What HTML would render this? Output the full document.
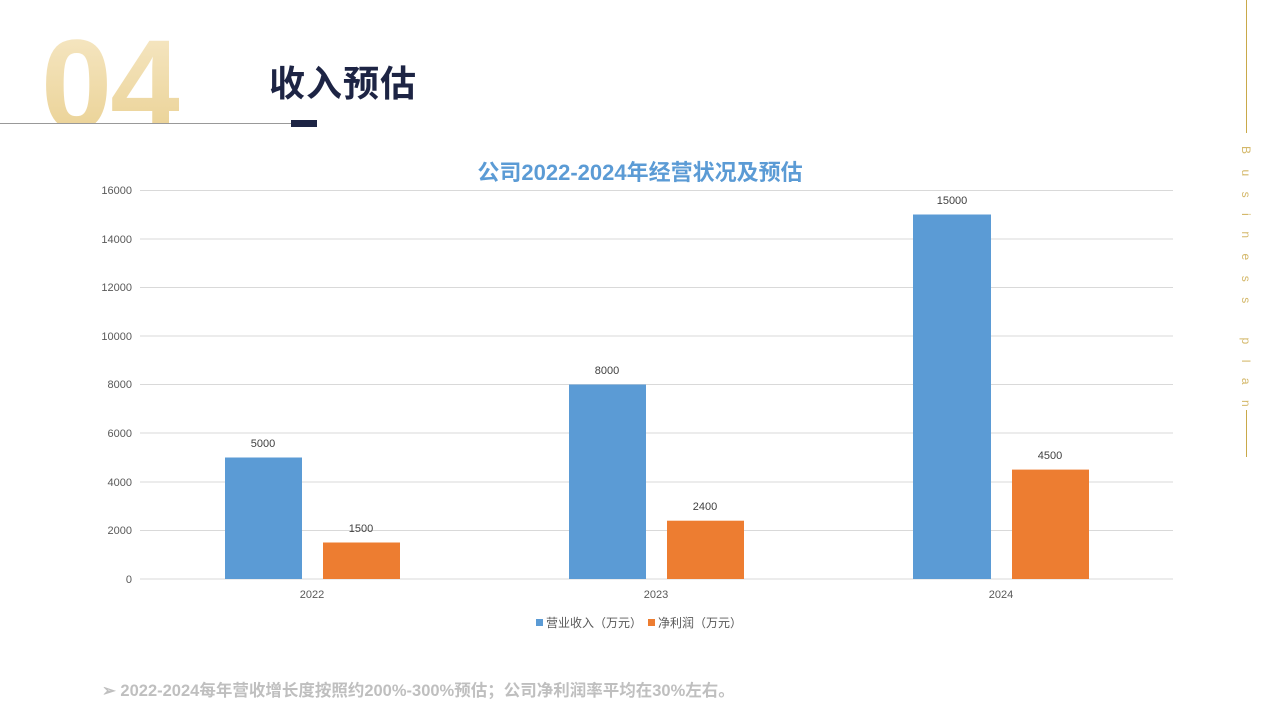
<!DOCTYPE html>
<html><head><meta charset="utf-8"><style>
html,body{margin:0;padding:0;background:#fff;}
body{width:1280px;height:720px;overflow:hidden;position:relative;font-family:"Liberation Sans","Noto Sans CJK SC",sans-serif;}
.numwrap{position:absolute;left:0;top:0;width:300px;height:123px;overflow:hidden;}
.num{position:absolute;left:41px;top:22px;font-size:128px;font-weight:bold;line-height:128px;letter-spacing:-2px;
background:linear-gradient(#f6e8c6,#e9cf8f);-webkit-background-clip:text;background-clip:text;color:transparent;font-family:"Liberation Sans",sans-serif;}
.title{position:absolute;left:269px;top:62px;font-size:36px;font-weight:bold;color:#1d2444;line-height:44px;letter-spacing:1px;}
</style></head><body>
<div class="numwrap"><div class="num">04</div></div>
<div style="position:absolute;left:0;top:123px;width:292px;height:1px;background:#999;"></div>
<div style="position:absolute;left:291px;top:120px;width:26px;height:7px;background:#1d2444;"></div>
<div class="title">收入预估</div>
<div style="position:absolute;left:1246px;top:0;width:1px;height:133px;background:#c9a94a;"></div>
<div style="position:absolute;left:1246px;top:410px;width:1px;height:47px;background:#c9a94a;"></div>
<div style="position:absolute;left:1238px;top:146px;width:16px;height:262px;">
<div style="position:absolute;left:0;top:0;width:280px;transform-origin:0 0;transform:translate(16px,0) rotate(90deg);font-size:12px;color:#d4b86a;letter-spacing:15.5px;white-space:nowrap;line-height:16px;">Business plan</div></div>
<svg width="1280" height="720" style="position:absolute;left:0;top:0" font-family="Liberation Sans, Noto Sans CJK SC, sans-serif">
<text x="640" y="180" text-anchor="middle" font-size="22" font-weight="bold" fill="#5b9bd5">公司2022-2024年经营状况及预估</text>
<g stroke="#d9d9d9" stroke-width="1">
<line x1="140" x2="1173" y1="190.5" y2="190.5"/><line x1="140" x2="1173" y1="239" y2="239"/>
<line x1="140" x2="1173" y1="287.5" y2="287.5"/><line x1="140" x2="1173" y1="336" y2="336"/>
<line x1="140" x2="1173" y1="384.5" y2="384.5"/><line x1="140" x2="1173" y1="433" y2="433"/>
<line x1="140" x2="1173" y1="482" y2="482"/><line x1="140" x2="1173" y1="530.5" y2="530.5"/>
<line x1="140" x2="1173" y1="579" y2="579"/></g>
<g font-size="11" fill="#595959" text-anchor="end">
<text x="132" y="194">16000</text><text x="132" y="243">14000</text><text x="132" y="291">12000</text>
<text x="132" y="340">10000</text><text x="132" y="388">8000</text><text x="132" y="437">6000</text>
<text x="132" y="486">4000</text><text x="132" y="534">2000</text><text x="132" y="583">0</text></g>
<g fill="#5b9bd5"><rect x="225" y="457.5" width="77" height="121.5"/><rect x="569" y="384.5" width="77" height="194.5"/><rect x="913" y="214.5" width="78" height="364.5"/></g>
<g fill="#ed7d31"><rect x="323" y="542.5" width="77" height="36.5"/><rect x="667" y="520.7" width="77" height="58.3"/><rect x="1012" y="469.6" width="77" height="109.4"/></g>
<g font-size="11" fill="#404040" text-anchor="middle">
<text x="263" y="447">5000</text><text x="361" y="532">1500</text>
<text x="607" y="374">8000</text><text x="705" y="510">2400</text>
<text x="952" y="204">15000</text><text x="1050" y="459">4500</text>
<text x="312" y="598" fill="#595959">2022</text><text x="656" y="598" fill="#595959">2023</text><text x="1001" y="598" fill="#595959">2024</text></g>
<rect x="536" y="619" width="7" height="7" fill="#5b9bd5"/>
<text x="546" y="627" font-size="12" fill="#595959">营业收入（万元）</text>
<rect x="648" y="619" width="7" height="7" fill="#ed7d31"/>
<text x="658" y="627" font-size="12" fill="#595959">净利润（万元）</text>
<text x="102" y="696" font-size="16.5" font-weight="bold" fill="#bfbfbf">➢ 2022-2024每年营收增长度按照约200%-300%预估；公司净利润率平均在30%左右。</text>
</svg>
</body></html>
